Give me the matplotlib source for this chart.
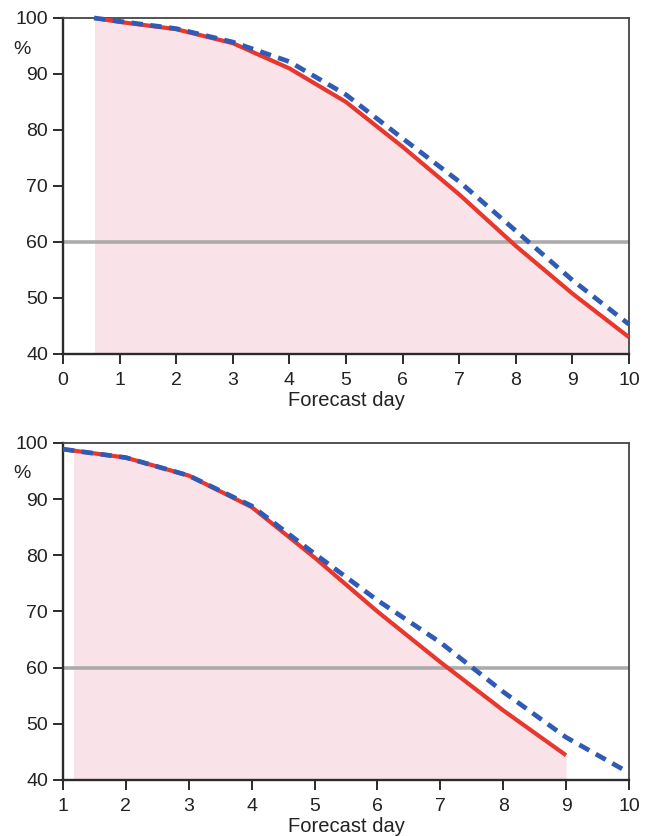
import matplotlib
matplotlib.use("Agg")
import matplotlib.pyplot as plt
from matplotlib.patches import Rectangle

plt.rcParams['font.family'] = ['Liberation Sans', 'DejaVu Sans']

# ---- data: top panel ----
top_days = [0.55, 1, 2, 3, 4, 5, 6, 7, 8, 9, 10]
top_red = [100, 99.3, 98.0, 95.5, 91.0, 85.0, 77.0, 68.5, 59.3, 50.8, 43.0]
top_blue = [100, 99.4, 98.1, 95.7, 92.2, 86.3, 78.5, 70.8, 62.0, 53.2, 45.3]
top_fill_start = 0.57

# ---- data: bottom panel ----
bot_days_red = [1, 2, 3, 4, 5, 6, 7, 8, 9]
bot_red = [98.9, 97.4, 94.2, 88.6, 79.6, 70.0, 61.0, 52.4, 44.4]
bot_days_blue = [1, 2, 3, 4, 5, 6, 7, 8, 9, 10]
bot_blue = [98.9, 97.4, 94.2, 88.8, 80.3, 72.0, 64.5, 55.7, 47.6, 41.3]
bot_fill_start = 1.18
bot_fill_end = 9.0

threshold = 60
yticks = [40, 50, 60, 70, 80, 90, 100]
top_xticks = list(range(0, 11))
bot_xticks = list(range(1, 11))

RED = '#e8372c'
BLUE = '#2f5bb5'
FILL = '#f9e3e9'
GREY = '#ababab'
FRAME = '#2b2b2b'
TXT = '#222222'

fig = plt.figure(figsize=(6.52, 8.36), dpi=100)
ax1 = fig.add_axes([0.0966, 0.5766, 0.868, 0.4019])
ax2 = fig.add_axes([0.0966, 0.0670, 0.868, 0.4031])


def style(ax, xlim, xticks, pct_y):
    ax.set_xlim(*xlim)
    ax.set_ylim(40, 100)
    ax.set_xticks(xticks)
    ax.set_yticks(yticks)
    ax.tick_params(direction='out', length=7.2, width=1.4, color=FRAME,
                   labelsize=14, labelcolor=TXT)
    ax.tick_params(axis='x', pad=5.5)
    ax.tick_params(axis='y', pad=3.5)
    for s in ['left', 'bottom']:
        ax.spines[s].set_linewidth(1.7)
        ax.spines[s].set_color(FRAME)
    for s in ['top', 'right']:
        ax.spines[s].set_linewidth(1.3)
        ax.spines[s].set_color('#444444')
    ax.axhline(threshold, color=GREY, lw=2.6, zorder=2)
    ax.set_xlabel('Forecast day', fontsize=14.5, labelpad=1.5, color=TXT)
    ax.text(-0.072, pct_y, '%', transform=ax.transAxes, fontsize=14,
            ha='center', va='center', color=TXT)


# top panel
style(ax1, (0, 10), top_xticks, 0.907)
f1 = ax1.fill_between(top_days, 40, top_red, color=FILL, lw=0, zorder=1)
f1.set_clip_path(Rectangle((top_fill_start, 40), 10 - top_fill_start, 60,
                           transform=ax1.transData))
ax1.plot(top_days, top_red, color=RED, lw=3.0, zorder=3, solid_capstyle='butt')
ax1.plot(top_days, top_blue, color=BLUE, lw=3.4, zorder=4,
         linestyle=(0, (2.4, 1.6)), clip_on=False)

# bottom panel
style(ax2, (1, 10), bot_xticks, 0.908)
f2 = ax2.fill_between(bot_days_red, 40, bot_red, color=FILL, lw=0, zorder=1)
f2.set_clip_path(Rectangle((bot_fill_start, 40), bot_fill_end - bot_fill_start, 60,
                           transform=ax2.transData))
ax2.plot(bot_days_red, bot_red, color=RED, lw=3.0, zorder=3, solid_capstyle='butt')
ax2.plot(bot_days_blue, bot_blue, color=BLUE, lw=3.4, zorder=4,
         linestyle=(0, (2.4, 1.6)))

fig.savefig('out.png', dpi=100)
